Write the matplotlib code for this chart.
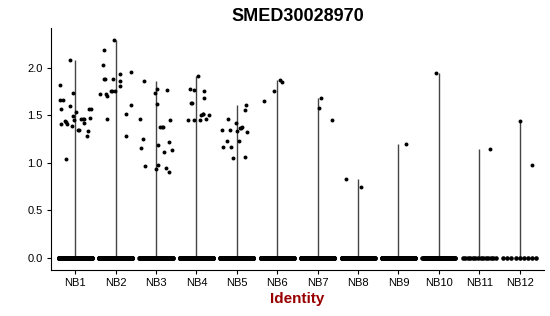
import numpy as np
import matplotlib.pyplot as plt

# --- data ---
groups = ["NB1", "NB2", "NB3", "NB4", "NB5", "NB6",
          "NB7", "NB8", "NB9", "NB10", "NB11", "NB12"]

# non-zero expression values per identity
nonzero_values = [
    [1.817, 1.659, 1.659, 1.568, 1.414, 1.44, 1.43, 1.41, 2.08, 1.603, 1.386, 1.74, 1.498,
     1.449, 1.537, 1.347, 1.347, 1.466, 1.466, 1.466, 1.421, 1.34, 1.28, 1.474, 1.568, 1.568, 1.042],
    [1.722, 2.035, 2.193, 1.887, 1.887, 1.726, 1.708, 1.463, 1.754, 1.754, 1.754, 1.887, 2.298,
     1.859, 1.937, 1.81, 1.958, 1.516, 1.606, 1.287],
    [1.859, 1.466, 1.256, 1.158, 1.74, 1.782, 1.624, 1.193, 1.38, 1.38, 1.38, 1.764, 1.456,
     1.224, 1.119, 1.133, 0.964, 0.94, 0.979, 0.947, 0.905],
    [1.449, 1.775, 1.632, 1.632, 1.449, 1.772, 1.916, 1.449, 1.50, 1.515, 1.52, 1.758, 1.687,
     1.466, 1.508],
    [1.347, 1.165, 1.463, 1.235, 1.347, 1.165, 1.053, 1.421, 1.337, 1.235, 1.37, 1.37, 1.375,
     1.063, 1.561, 1.606, 1.322],
    [1.656, 1.754, 1.874, 1.849],
    [1.684, 1.582, 1.449],
    [0.827, 0.747],
    [1.203],
    [1.944],
    [1.15],
    [1.439, 0.975],
]

# horizontal jitter of those points (category units)
jitter = [
    [-0.38, -0.37, -0.30, -0.36, -0.36, -0.26, -0.24, -0.21, -0.12, -0.12, -0.07, -0.05, -0.05,
     -0.02, 0.02, 0.06, 0.09, 0.14, 0.18, 0.21, 0.21, 0.31, 0.29, 0.36, 0.34, 0.40, -0.24],
    [-0.39, -0.31, -0.29, -0.29, -0.27, -0.24, -0.22, -0.21, -0.12, -0.09, -0.02, -0.07, -0.04,
     0.11, 0.12, 0.12, 0.38, 0.26, 0.37, 0.26],
    [-0.29, -0.39, -0.32, -0.38, -0.03, 0.02, 0.02, 0.04, 0.10, 0.15, 0.18, 0.28, 0.35,
     0.31, 0.20, 0.39, -0.28, 0.00, 0.04, 0.24, 0.32],
    [-0.20, -0.16, -0.13, -0.10, -0.07, -0.05, 0.03, 0.08, 0.12, 0.15, 0.17, 0.18, 0.19,
     0.23, 0.32],
    [-0.37, -0.35, -0.23, -0.24, -0.18, -0.14, -0.09, -0.02, 0.01, 0.05, 0.08, 0.11, 0.13,
     0.19, 0.21, 0.22, 0.25],
    [-0.32, -0.08, 0.08, 0.11],
    [0.08, 0.04, 0.36],
    [-0.30, 0.07],
    [0.18],
    [-0.07],
    [0.27],
    [0.00, 0.31],
]

# approximate number of cells with zero expression
zero_counts = [400, 400, 400, 400, 400, 300, 300, 250, 200, 50, 14, 9]

y_ticks = [0.0, 0.5, 1.0, 1.5, 2.0]

plt.rcParams["font.family"] = ["Liberation Sans", "DejaVu Sans"]

fig = plt.figure(figsize=(5.5, 3.16), dpi=100)
ax = fig.add_axes([0.0927, 0.1456, 0.8963, 0.7658])

xpos = np.arange(1, len(groups) + 1)

# violins collapse to thin lines from 0 to the max value
vmax = [max(v) for v in nonzero_values]
ax.vlines(xpos, 0, vmax, color="#444444", linewidth=1.0, zorder=1)

for i, x in enumerate(xpos):
    zx = x + np.linspace(-0.41, 0.41, zero_counts[i])
    ax.scatter(zx, np.zeros(zero_counts[i]), s=11, color="black", linewidths=0, zorder=2)
    ax.scatter(x + np.array(jitter[i]), nonzero_values[i], s=8, color="black",
               linewidths=0, zorder=2)

ax.set_xlim(0.4, 12.6)
ax.set_ylim(-0.126, 2.42)
ax.set_xticks(xpos)
ax.set_xticklabels(groups)
ax.set_yticks(y_ticks)
ax.set_yticklabels([f"{t:.1f}" for t in y_ticks])

for side in ["top", "right"]:
    ax.spines[side].set_visible(False)
for side in ["left", "bottom"]:
    ax.spines[side].set_linewidth(0.8)
    ax.spines[side].set_color("black")

ax.tick_params(axis="both", length=3, width=0.8, pad=3, labelsize=8, colors="black")

ax.set_title("SMED30028970", fontsize=13, fontweight="bold", pad=5)
ax.set_xlabel("Identity", fontsize=11, fontweight="bold", color="#990000", labelpad=3)

fig.savefig("out.png", dpi=100)
